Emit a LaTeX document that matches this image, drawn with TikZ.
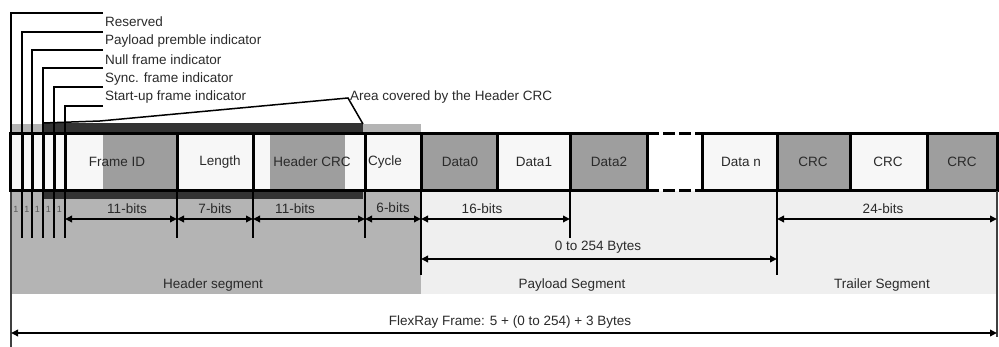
\documentclass[tikz,border=0pt]{standalone}
\usepackage{fontspec}
\setmainfont{Liberation Sans}
\usetikzlibrary{arrows.meta}
\definecolor{hdrgray}{HTML}{B4B4B4}
\definecolor{lightbg}{HTML}{EFEFEF}
\definecolor{cellgray}{HTML}{9E9E9E}
\definecolor{cellwhite}{HTML}{F7F7F7}
\definecolor{darkband}{HTML}{333333}
\definecolor{txt}{HTML}{2A2A2A}
\begin{document}
\begin{tikzpicture}[x=1pt,y=-1pt,
  lbl/.style={font=\fontsize{13.5}{15}\selectfont, text=txt, inner sep=0pt},
  bitlbl/.style={font=\fontsize{9}{10}\selectfont, text=black!65, inner sep=0pt},
  cellbox/.style={draw=black, line width=3pt, minimum height=57pt, inner sep=0pt, outer sep=0pt, anchor=west},
  gapbox/.style={minimum height=57pt, inner sep=0pt, outer sep=0pt, anchor=west},
  leader/.style={line width=1.8pt, draw=black},
  ext/.style={line width=1.8pt, draw=black},
  thinline/.style={line width=1.2pt, draw=black!75},
  dim/.style={line width=1.8pt, {Triangle[length=7pt,width=6.5pt]}-{Triangle[length=7pt,width=6.5pt]}}
]
\useasboundingbox (0,0) rectangle (999,347);
% backgrounds
\fill[hdrgray] (10,124) rectangle (421,294);
\fill[lightbg] (421,191) rectangle (997,294);
\fill[darkband] (43,123) rectangle (363,134);
\fill[darkband] (43,191) rectangle (363,199);
% cell fills
\fill[cellwhite] (10,134) rectangle (997,191);
\fill[cellgray] (103,134) rectangle (177,191);
\fill[cellgray] (270,134) rectangle (345,191);
\fill[cellgray] (421,134) rectangle (497,191);
\fill[cellgray] (570,134) rectangle (647,191);
\fill[white] (647,134) rectangle (702,191);
\fill[cellgray] (777,134) rectangle (850,191);
\fill[cellgray] (927,134) rectangle (997,191);

% leader coordinates
\coordinate (t0) at (11,13);  \coordinate (e0) at (103,13);
\coordinate (t1) at (22,32);  \coordinate (e1) at (103,32);
\coordinate (t2) at (32,50);  \coordinate (e2) at (103,50);
\coordinate (t3) at (43,68);  \coordinate (e3) at (103,68);
\coordinate (t4) at (54,87);  \coordinate (e4) at (103,87);
\coordinate (t5) at (65,106); \coordinate (e5) at (103,106);
\coordinate (b0) at (11,347);
\coordinate (b1) at (22,238);
\coordinate (b2) at (32,238);
\coordinate (b3) at (43,238);
\coordinate (b4) at (54,238);
\coordinate (b5) at (65,238);

\draw[leader] (e0) -- (t0) -- (11,134);
\draw[thinline] (11,191) -- (b0);
\draw[leader] (e1) -- (t1) -- (b1);
\draw[leader] (e2) -- (t2) -- (b2);
\draw[leader] (e3) -- (t3) -- (b3);
\draw[leader] (e4) -- (t4) -- (b4);
\draw[leader] (e5) -- (t5) -- (b5);

% top labels
\node[lbl, anchor=west] (nRes)  at (105,22) {Reserved};
\node[lbl, anchor=west] (nPay)  at (105,41) {Payload premble indicator};
\node[lbl, anchor=west] (nNull) at (105,60) {Null frame indicator};
\node[lbl, anchor=west] (nSync) at (105,79) {Sync. frame indicator};
\node[lbl, anchor=west] (nStart) at (105,97) {Start-up frame indicator};
\node[lbl, anchor=west] (nArea) at (350,97) {Area covered by the Header CRC};
\coordinate (a0) at (43,123);
\coordinate (a1) at (100,121);
\coordinate (a2) at (348,98);
\coordinate (a3) at (363,124);
\draw[leader, line width=1.5pt] (a0) -- (a1) -- (a2) -- (a3);

% cells
\node[cellbox, minimum width=12pt] (bc0) at (10,162.5) {};
\node[cellbox, minimum width=10pt] (bc1) at (22,162.5) {};
\node[cellbox, minimum width=11pt] (bc2) at (32,162.5) {};
\node[cellbox, minimum width=11pt] (bc3) at (43,162.5) {};
\node[cellbox, minimum width=11pt] (bc4) at (54,162.5) {};
\node[cellbox, minimum width=112pt] (fid) at (65,162.5) {};
\node[cellbox, minimum width=76pt] (len) at (177,162.5) {};
\node[cellbox, minimum width=112pt] (hcrc) at (253,162.5) {};
\node[cellbox, minimum width=56pt] (cyc) at (365,162.5) {};
\node[cellbox, minimum width=76pt] (d0) at (421,162.5) {};
\node[cellbox, minimum width=73pt] (d1) at (497,162.5) {};
\node[cellbox, minimum width=77pt] (d2) at (570,162.5) {};
\node[gapbox, minimum width=55pt] (gap) at (647,162.5) {};
\node[cellbox, minimum width=75pt] (dn) at (702,162.5) {};
\node[cellbox, minimum width=73pt] (c1) at (777,162.5) {};
\node[cellbox, minimum width=77pt] (c2) at (850,162.5) {};
\node[cellbox, minimum width=70pt] (c3) at (927,162.5) {};
\draw[line width=3pt, dash pattern=on 12pt off 4pt] (gap.north west) -- (gap.north east);
\draw[line width=3pt, dash pattern=on 12pt off 4pt] (gap.south west) -- (gap.south east);

% cell texts
\node[lbl] (tfid) at (117,162) {Frame ID};
\node[lbl] (tlen) at (220,162) {Length};
\node[lbl] (thcrc) at (312,162) {Header CRC};
\node[lbl] (tcyc) at (385,162) {Cycle};
\node[lbl] (td0) at (460,162) {Data0};
\node[lbl] (td1) at (534,162) {Data1};
\node[lbl] (td2) at (609,162) {Data2};
\node[lbl] (tdn) at (741,162) {Data n};
\node[lbl] (tc1) at (813,162) {CRC};
\node[lbl] (tc2) at (888,162) {CRC};
\node[lbl] (tc3) at (962,162) {CRC};

% extension lines
\draw[ext] (fid.south east) -- ++(0,47);
\draw[ext] (len.south east) -- ++(0,47);
\draw[ext] (hcrc.south east) -- ++(0,47);
\draw[ext] (cyc.south east) -- ++(0,84);
\draw[ext] (d1.south east) -- ++(0,47);
\draw[ext] (dn.south east) -- ++(0,84);
\draw[thinline] (c3.south east) -- ++(0,146);

% bit labels
\node[bitlbl] (one0) at (16,209) {1};
\node[bitlbl] (one1) at (27,209) {1};
\node[bitlbl] (one2) at (37.5,209) {1};
\node[bitlbl] (one3) at (48.5,209) {1};
\node[bitlbl] (one4) at (59.5,209) {1};

% dimension arrows
\draw[dim] ([yshift=-28pt]fid.south west) -- ([yshift=-28pt]fid.south east);
\draw[dim] ([yshift=-28pt]len.south west) -- ([yshift=-28pt]len.south east);
\draw[dim] ([yshift=-28pt]hcrc.south west) -- ([yshift=-28pt]hcrc.south east);
\draw[dim] ([yshift=-28pt]cyc.south west) -- ([yshift=-28pt]cyc.south east);
\draw[dim] ([yshift=-28pt]d0.south west) -- ([yshift=-28pt]d1.south east);
\draw[dim] ([yshift=-28pt]c1.south west) -- ([yshift=-28pt]c3.south east);
\draw[dim] ([yshift=-68pt]d0.south west) -- ([yshift=-68pt]dn.south east);
\draw[dim] ([xshift=1pt,yshift=-142pt]bc0.south west) -- ([yshift=-142pt]c3.south east);

\node[lbl] (l1) at (127,209) {11-bits};
\node[lbl] (l2) at (215,209) {7-bits};
\node[lbl] (l3) at (295,209) {11-bits};
\node[lbl] (l4) at (393,208) {6-bits};
\node[lbl] (l5) at (482,209) {16-bits};
\node[lbl] (l6) at (883,209) {24-bits};
\node[lbl] (l7) at (598,247) {0 to 254 Bytes};
\node[lbl] (s1) at (213,285) {Header segment};
\node[lbl] (s2) at (572,285) {Payload Segment};
\node[lbl] (s3) at (882,285) {Trailer Segment};
\node[lbl] (fr) at (510,322) {FlexRay Frame: 5 + (0 to 254) + 3 Bytes};
\end{tikzpicture}
\end{document}
